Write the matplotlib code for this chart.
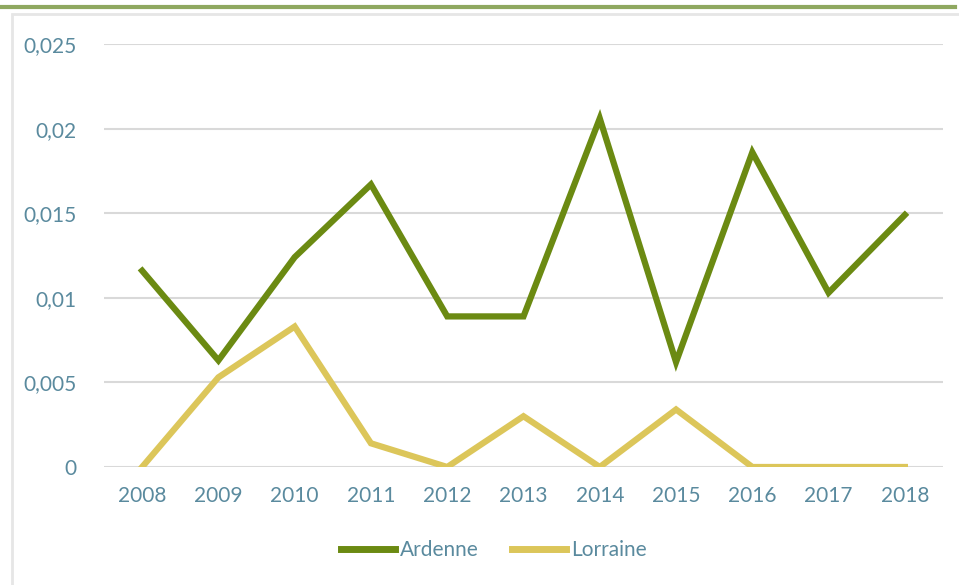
import numpy as np
import matplotlib.pyplot as plt
from matplotlib.lines import Line2D
from matplotlib.patches import Rectangle
from matplotlib.ticker import FuncFormatter

years = ['2008', '2009', '2010', '2011', '2012', '2013', '2014', '2015', '2016', '2017', '2018']
ardenne = [0.0116, 0.0063, 0.0124, 0.0167, 0.0089, 0.0089, 0.0206, 0.0062, 0.0186, 0.0103, 0.0149]
lorraine = [0.0, 0.0053, 0.0083, 0.0014, 0.0, 0.0030, 0.0, 0.0034, 0.0, 0.0, 0.0]
yticks = [0, 0.005, 0.01, 0.015, 0.02, 0.025]

green = '#6b8a12'
yellow = '#dcc65a'
txt = '#5a8a9e'

plt.rcParams['font.family'] = ['Lato', 'DejaVu Sans']

fig = plt.figure(figsize=(9.59, 5.85), dpi=100)
# top green rule and light frame
fig.add_artist(Line2D([0, 0.996], [0.988, 0.988], color='#8fa860', lw=3, transform=fig.transFigure))
fig.add_artist(Rectangle((0.012, -0.05), 1.0, 1.026, transform=fig.transFigure,
                         fill=False, edgecolor='#e6e6e6', lw=2))

ax = fig.add_axes([104/959, 1-467/585, (943-104)/959, (467-44)/585])
x = np.arange(len(years))
ax.plot(x, ardenne, color=green, lw=4.5, label='Ardenne', solid_joinstyle='miter')
ax.plot(x, lorraine, color=yellow, lw=4.5, label='Lorraine', solid_joinstyle='miter')

ax.set_xlim(-0.5, len(years) - 0.5)
ax.set_ylim(0, 0.025)
ax.set_yticks(yticks)
ax.yaxis.set_major_formatter(FuncFormatter(lambda v, p: '0' if v == 0 else ('%g' % v).replace('.', ',')))
ax.set_xticks(x)
ax.set_xticklabels(years)
ax.grid(axis='y', color='#d9d9d9', lw=1.5)
ax.set_axisbelow(True)
for s in ax.spines.values():
    s.set_visible(False)
ax.tick_params(length=0, labelsize=15, labelcolor=txt)
ax.tick_params(axis='y', pad=20)
ax.tick_params(axis='x', pad=14)

leg = fig.legend(loc='center', bbox_to_anchor=(0.515, 1-550/585), ncol=2, frameon=False,
                 fontsize=15, handlelength=2.6, handletextpad=0.25, columnspacing=1.6)
for t in leg.get_texts():
    t.set_color(txt)
for h in leg.legend_handles:
    h.set_linewidth(5)

fig.savefig('out.png', dpi=100)
